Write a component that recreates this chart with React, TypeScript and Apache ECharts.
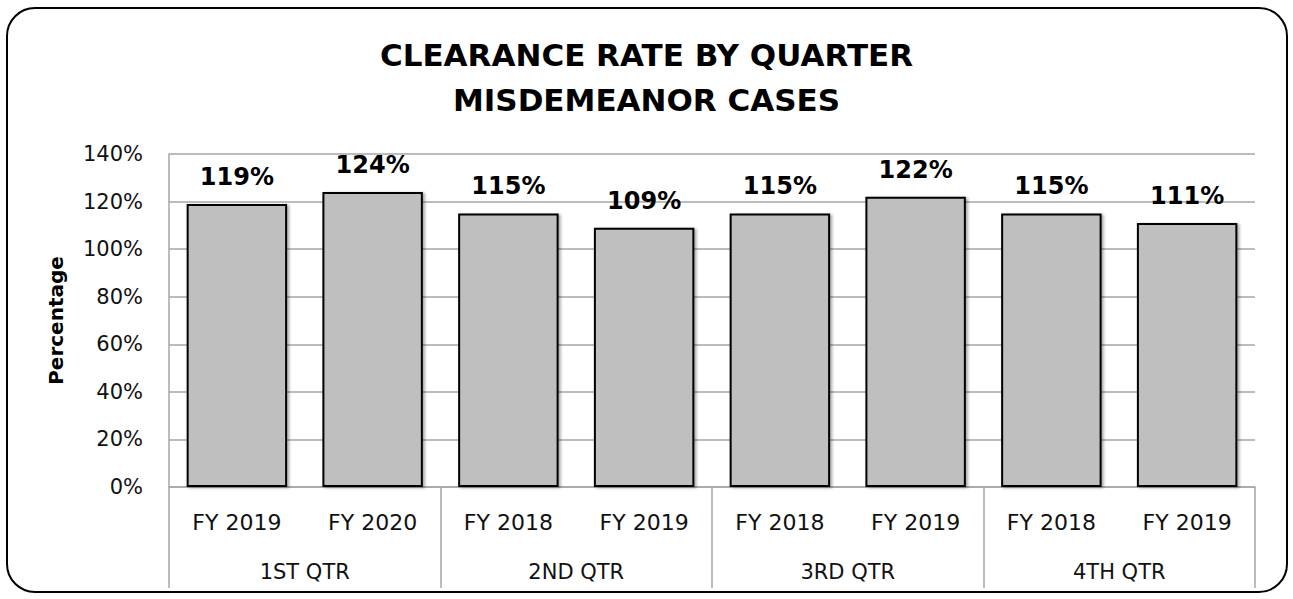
import React, { useEffect, useRef } from "react";
import * as echarts from "echarts";

const fyLabels = ["FY 2019", "FY 2020", "FY 2018", "FY 2019", "FY 2018", "FY 2019", "FY 2018", "FY 2019"];
const quarterLabels = ["1ST QTR", "2ND QTR", "3RD QTR", "4TH QTR"];
const clearanceRates = [119, 124, 115, 109, 115, 122, 115, 111];
const titleLines = ["CLEARANCE RATE BY QUARTER", "MISDEMEANOR CASES"];
const yAxisTitle = "Percentage";

const FONT = "'DejaVu Sans', sans-serif";
const GRID_GREY = "#a6a6a6";

export default function App() {
  const ref = useRef<HTMLDivElement>(null);
  useEffect(() => {
    const chart = echarts.init(ref.current!, null, { renderer: "svg" });
    chart.setOption({
      animation: false,
      backgroundColor: "#ffffff",
      textStyle: { fontFamily: FONT },
      graphic: [
        {
          type: "rect",
          z: -10,
          shape: { x: 7, y: 8, width: 1280, height: 584, r: 28 },
          style: { fill: "none", stroke: "#000", lineWidth: 2 },
        },
      ],
      title: {
        text: titleLines.join("\n"),
        left: "center",
        top: 27,
        textStyle: {
          fontFamily: FONT,
          fontSize: 31,
          fontWeight: "bold",
          color: "#000",
          lineHeight: 45,
        },
      },
      grid: { left: 169, right: 38, top: 154, bottom: 112, containLabel: false },
      xAxis: [
        {
          type: "category",
          position: "bottom",
          data: fyLabels,
          axisLine: { show: true, lineStyle: { color: GRID_GREY, width: 1.5 } },
          axisTick: { show: false },
          axisLabel: { margin: 24, fontSize: 22, color: "#111", fontFamily: FONT, interval: 0 },
        },
        {
          type: "category",
          position: "bottom",
          data: quarterLabels,
          axisLine: { show: false },
          axisTick: { show: true, interval: 0, length: 101, lineStyle: { color: GRID_GREY, width: 1.5 } },
          axisLabel: { margin: 74, fontSize: 21, color: "#111", fontFamily: FONT, interval: 0 },
        },
      ],
      yAxis: {
        type: "value",
        min: 0,
        max: 140,
        interval: 20,
        name: yAxisTitle,
        nameLocation: "middle",
        nameRotate: 90,
        nameGap: 103,
        nameTextStyle: { fontSize: 20, fontWeight: "bold", color: "#000", fontFamily: FONT },
        axisLine: { show: true, lineStyle: { color: GRID_GREY, width: 1.5 } },
        axisTick: { show: false },
        splitLine: { show: true, lineStyle: { color: GRID_GREY, width: 1.5 } },
        axisLabel: { formatter: "{value}%", fontSize: 21, color: "#111", margin: 26, fontFamily: FONT },
      },
      series: [
        {
          type: "bar",
          xAxisIndex: 0,
          data: clearanceRates,
          barWidth: "74%",
          itemStyle: {
            color: "#bfbfbf",
            borderColor: "#000",
            borderWidth: 2,
            shadowColor: "rgba(0,0,0,0.35)",
            shadowBlur: 3,
            shadowOffsetX: 2,
            shadowOffsetY: 1,
          },
          label: {
            show: true,
            position: "top",
            distance: 15,
            formatter: "{c}%",
            fontSize: 24,
            fontWeight: "bold",
            color: "#000",
            fontFamily: FONT,
          },
        },
      ],
    });
    return () => chart.dispose();
  }, []);
  return (
    <div
      ref={ref}
      style={{ position: "fixed", left: 0, top: 0, width: 1293, height: 599, background: "#fff" }}
    />
  );
}
